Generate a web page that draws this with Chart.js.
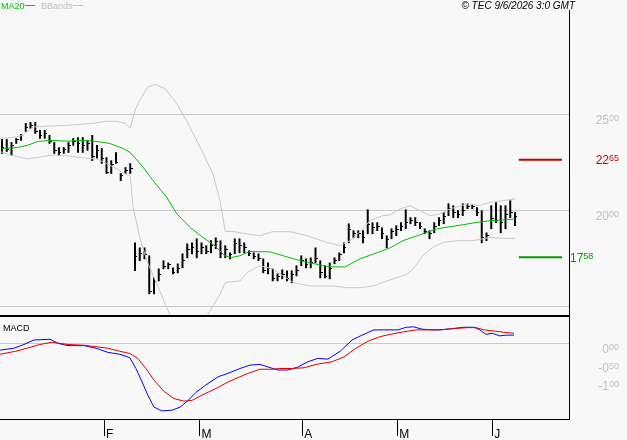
<!DOCTYPE html>
<html>
<head>
<meta charset="utf-8">
<script src="https://cdn.jsdelivr.net/npm/chart.js@4.4.1/dist/chart.umd.min.js"></script>
<style>
  html, body { margin: 0; padding: 0; background: #f8f8f8; }
  #wrap { position: relative; width: 627px; height: 440px; overflow: hidden; }
  canvas { position: absolute; left: 0; }
  #priceChart { top: 0; }
  #macdChart { top: 316px; }
</style>
</head>
<body>
<div id="wrap">
  <canvas id="priceChart" width="627" height="316"></canvas>
  <canvas id="macdChart" width="627" height="124"></canvas>
</div>
<script>
// daily bars, Jan -> early June (one entry per session)
const highs = [23.70, 23.70, 23.54, 23.75, 23.96, 24.53, 24.58, 24.58, 24.17, 24.17,
  23.91, 23.54, 23.28, 23.28, 23.54, 23.75, 23.80, 23.80, 23.65, 23.91,
  23.39, 23.23, 22.76, 22.60, 23.02, 21.93, 22.24, 22.45, 18.33, 18.07,
  18.07, 17.66, 16.51, 16.98, 17.40, 17.29, 17.03, 17.24, 17.76, 18.28,
  18.33, 18.54, 18.33, 18.18, 18.44, 18.59, 18.44, 18.18, 17.81, 18.54,
  18.54, 18.33, 17.92, 17.81, 17.76, 17.50, 17.29, 16.98, 16.72, 16.93,
  16.88, 16.88, 17.14, 17.66, 17.50, 17.55, 18.07, 17.40, 17.14, 17.29,
  17.55, 17.81, 18.33, 19.32, 18.96, 18.96, 18.96, 20.05, 19.38, 19.38,
  19.11, 18.70, 19.06, 19.22, 19.38, 20.05, 19.64, 19.64, 19.38, 19.06,
  18.96, 19.38, 19.64, 19.90, 20.36, 20.26, 20.00, 20.36, 20.36, 20.31,
  20.16, 20.00, 18.85, 20.26, 20.42, 20.26, 20.26, 20.52, 19.90];
const lows = [22.97, 23.07, 22.86, 23.49, 23.65, 24.11, 24.27, 24.01, 23.75, 23.75,
  23.49, 22.97, 22.86, 22.97, 23.02, 23.39, 23.02, 23.02, 23.13, 22.60,
  22.71, 22.45, 21.93, 21.93, 22.45, 21.56, 21.93, 21.93, 16.88, 17.40,
  17.50, 15.68, 15.68, 16.35, 16.98, 16.98, 16.72, 16.77, 17.03, 17.55,
  17.76, 17.55, 17.76, 17.76, 17.81, 18.02, 17.55, 17.55, 17.50, 17.76,
  17.81, 17.81, 17.66, 17.50, 17.40, 16.77, 16.72, 16.35, 16.35, 16.46,
  16.35, 16.25, 16.61, 17.14, 17.03, 17.03, 17.29, 16.51, 16.51, 16.46,
  17.24, 17.40, 17.81, 18.33, 18.59, 18.59, 18.33, 18.80, 18.80, 18.96,
  18.54, 18.07, 18.54, 18.70, 18.96, 19.06, 19.32, 19.22, 19.06, 18.80,
  18.54, 18.85, 19.22, 19.32, 19.74, 19.64, 19.64, 19.74, 20.10, 20.10,
  19.74, 18.33, 18.44, 19.06, 19.38, 18.85, 19.06, 19.64, 19.22];
const closes = [23.3, 23.2, 23.4, 23.7, 23.9, 24.3, 24.4, 24.1, 23.9, 24.0,
  23.6, 23.1, 23.0, 23.2, 23.4, 23.6, 23.5, 23.4, 23.5, 22.8,
  23.1, 22.7, 22.0, 22.4, 22.5, 21.8, 22.1, 22.2, 17.6, 17.8,
  17.7, 15.8, 16.3, 16.7, 17.1, 17.2, 16.8, 17.0, 17.4, 18.0,
  18.1, 17.9, 18.1, 17.9, 18.2, 18.4, 17.8, 18.0, 17.7, 18.3,
  18.2, 18.1, 17.8, 17.6, 17.5, 16.9, 17.0, 16.5, 16.6, 16.7,
  16.5, 16.7, 16.9, 17.4, 17.2, 17.3, 17.5, 16.8, 16.6, 17.0,
  17.4, 17.7, 18.1, 19.0, 18.8, 18.8, 18.6, 19.3, 19.1, 19.2,
  18.8, 18.5, 18.9, 19.0, 19.2, 19.4, 19.5, 19.4, 19.2, 18.9,
  18.8, 19.2, 19.5, 19.7, 20.1, 19.9, 19.8, 20.0, 20.2, 20.2,
  19.9, 18.6, 18.7, 19.6, 19.5, 19.4, 19.8, 19.9, 19.7];

// [session, value]
const ma20 = [[0, 23.23], [3.2, 23.28], [5.3, 23.39], [7.6, 23.59], [10.1, 23.65], [13.7, 23.61],
  [17.1, 23.65], [20, 23.59], [22.7, 23.49], [25.5, 23.23], [27, 23.02], [29.7, 22.26],
  [31.8, 21.56], [34.7, 20.69], [36.8, 19.84], [39.6, 19.13], [42.3, 18.61], [44.8, 18.18],
  [46.9, 17.66], [48.4, 17.57], [50.1, 17.66], [52.2, 17.88], [56.4, 17.86], [59.2, 17.66],
  [62.1, 17.45], [64.8, 17.29], [69.1, 17.08], [72.2, 17.08], [75.4, 17.50], [78.9, 17.81],
  [81.7, 18.07], [84.4, 18.44], [88.6, 18.80], [91.6, 19.06], [95.8, 19.22], [100, 19.39],
  [102.7, 19.48], [106.3, 19.53], [108, 19.57]];
const bbUpper = [[-0.4, 23.75], [2.3, 23.80], [4.4, 23.91], [6.5, 24.34], [9.5, 24.39], [13.7, 24.43],
  [18.5, 24.52], [22.1, 24.64], [24.2, 24.64], [25.9, 24.53], [27, 24.30], [28, 25.21],
  [29, 25.73], [30.7, 26.42], [32.2, 26.55], [34.3, 26.34], [36.8, 25.56], [39, 24.60],
  [41.7, 23.30], [44.4, 21.91], [45.9, 20.52], [47, 18.92], [48.6, 18.92], [51.6, 18.79],
  [54.3, 18.70], [57, 18.91], [60.6, 18.91], [64.2, 18.70], [68.4, 18.35], [71.2, 18.18],
  [73.3, 18.44], [75.4, 18.91], [77.5, 19.48], [80.2, 19.74], [81.7, 19.78], [83.8, 20.09],
  [85.9, 20.26], [88, 20.00], [90.1, 19.74], [92.2, 19.83], [94.3, 20.09], [97.9, 20.35],
  [100.6, 20.26], [102.7, 20.43], [105.5, 20.52], [108, 20.61]];
const bbLower = [[-0.4, 23.07], [2.3, 22.86], [5.3, 22.69], [8, 22.78], [10.7, 22.90], [14.3, 22.83],
  [17.9, 22.72], [20, 22.69], [22.1, 22.43], [24.2, 22.17], [25.9, 21.91], [27, 21.82],
  [27.6, 20.17], [29, 18.61], [30.5, 17.40], [32.6, 16.20], [34.7, 14.95], [35.8, 14.38],
  [39.6, 13.75], [42.7, 14.38], [43.8, 14.79], [45.9, 15.66], [47, 16.27], [50.1, 16.35],
  [51.6, 16.79], [54.3, 17.14], [57, 16.98], [61.3, 16.27], [64.8, 16.09], [69.7, 16.09],
  [72.6, 16.00], [75.4, 16.00], [78.1, 16.09], [81.1, 16.35], [85.3, 16.70], [86.5, 16.96],
  [88.6, 17.66], [90.7, 18.09], [92.8, 18.35], [95.8, 18.44], [99.2, 18.44], [102.7, 18.61],
  [105.5, 18.56], [108, 18.56]];

const macdLine = [[-0.4, -0.18], [2.5, -0.13], [4.6, -0.03], [6.7, 0.09], [10.1, 0.11], [11.8, 0.0],
  [13.9, -0.06], [17.3, -0.06], [19.8, -0.13], [22.3, -0.24], [24.8, -0.29], [26.9, -0.38],
  [28.2, -0.67], [29.5, -1.03], [30.7, -1.38], [32, -1.70], [33.7, -1.80], [35.8, -1.78],
  [37.5, -1.70], [39.2, -1.52], [40.8, -1.31], [42.9, -1.11], [45.5, -0.89], [47.6, -0.80],
  [50.1, -0.67], [52.2, -0.58], [54.3, -0.56], [56, -0.63], [58.1, -0.71], [60.2, -0.71],
  [62.3, -0.63], [64.4, -0.49], [66.5, -0.40], [68.6, -0.42], [71.2, -0.21], [73.7, 0.09],
  [75.8, 0.22], [78.3, 0.36], [80.4, 0.36], [83.4, 0.36], [85.1, 0.43], [86.7, 0.44],
  [88.4, 0.38], [90.5, 0.36], [92.2, 0.36], [95.2, 0.40], [97.3, 0.43], [99.4, 0.43],
  [100.6, 0.36], [101.9, 0.24], [103.2, 0.27], [104.8, 0.20], [106.1, 0.22], [107.8, 0.22]];
const macdSignal = [[-0.4, -0.29], [2.9, -0.21], [5.5, -0.12], [8, -0.03], [10.5, 0.03], [13.9, -0.03],
  [17.3, -0.05], [19.8, -0.09], [22.3, -0.13], [24.8, -0.21], [26.9, -0.27], [28.6, -0.40],
  [30.3, -0.67], [32, -0.98], [34.1, -1.28], [36.2, -1.47], [38.3, -1.54], [40, -1.52],
  [42.1, -1.38], [45.1, -1.20], [47.6, -1.03], [50.1, -0.89], [52.2, -0.78], [54.3, -0.69],
  [56.8, -0.69], [58.5, -0.67], [61.1, -0.67], [63.6, -0.65], [66.1, -0.56], [69.5, -0.49],
  [72, -0.36], [74.5, -0.13], [77.1, 0.06], [79.6, 0.18], [82.1, 0.25], [84.6, 0.31],
  [87.2, 0.36], [89.7, 0.36], [92.2, 0.36], [95.6, 0.40], [98.1, 0.42], [99.8, 0.42],
  [101.5, 0.36], [103.6, 0.33], [106.1, 0.29], [107.8, 0.27]];

const resistance = 22.65;
const support = 17.58;
const priceTicks = [15, 20, 25];
const priceLabels = [20, 25];
const macdTicks = [-1, -0.5, 0];
const monthLabels = ['F', 'M', 'A', 'M', 'J'];
const monthStarts = [21.5, 41.6, 63.2, 83.2, 103.2];

const FONT = '"Liberation Sans", Arial, sans-serif';
const xMin = -0.42, xMax = 119.37;
const lastIdx = highs.length - 1;

const toXY = pts => pts.map(p => ({ x: p[0], y: p[1] }));

// small tick to the right of each bar for the close
const closeTick = document.createElement('canvas');
closeTick.width = 5; closeTick.height = 1;
const tctx = closeTick.getContext('2d');
tctx.fillStyle = '#000';
tctx.fillRect(3, 0, 2, 1);

// "25" big + "00" small raised, like the original axis labels
function splitLabel(v) {
  const s = Math.abs(v).toFixed(2).split('.');
  return [(v < 0 ? '-' : '') + s[0], s[1]];
}
function drawSplit(ctx, v, x, y, color, alignLeft) {
  const [big, small] = splitLabel(v);
  ctx.save();
  ctx.fillStyle = color;
  ctx.textBaseline = 'alphabetic';
  ctx.font = '12px ' + FONT;
  const bw = ctx.measureText(big).width;
  ctx.font = '9px ' + FONT;
  const sw = ctx.measureText(small).width;
  const left = alignLeft ? x : x - bw - sw;
  ctx.font = '12px ' + FONT;
  ctx.textAlign = 'left';
  ctx.fillText(big, left, y + 4.5);
  ctx.font = '9px ' + FONT;
  ctx.fillText(small, left + bw, y + 1.5);
  ctx.restore();
}

const priceDecor = {
  id: 'priceDecor',
  afterDraw(chart) {
    const ctx = chart.ctx, a = chart.chartArea, ys = chart.scales.y;
    ctx.save();
    ctx.fillStyle = '#000';
    ctx.fillRect(0, a.bottom - 1, a.right + 1, 1);
    // legend
    ctx.font = '9px ' + FONT;
    ctx.textBaseline = 'alphabetic';
    ctx.fillStyle = '#00c000';
    ctx.fillText('MA20', 1, 9);
    ctx.fillRect(25, 5, 10, 1);
    ctx.fillStyle = '#c0c0c0';
    ctx.fillText('BBands', 41, 9);
    ctx.fillRect(73, 5, 10, 1);
    ctx.fillStyle = '#000';
    ctx.font = 'italic 10px ' + FONT;
    ctx.textAlign = 'right';
    ctx.fillText('\u00a9 TEC 9/6/2026 3:0 GMT', 575, 9);
    ctx.restore();
    priceLabels.forEach(v => drawSplit(ctx, v, 619, ys.getPixelForValue(v) + 5, '#c0c0c0'));
    drawSplit(ctx, resistance, 619, ys.getPixelForValue(resistance), '#cc0000');
    drawSplit(ctx, support, a.right + 1, ys.getPixelForValue(support), '#009900', true);
  }
};

const macdDecor = {
  id: 'macdDecor',
  afterDraw(chart) {
    const ctx = chart.ctx, a = chart.chartArea, ys = chart.scales.y;
    ctx.save();
    ctx.fillStyle = '#000';
    ctx.fillRect(0, 0, a.right + 1, 1);
    ctx.font = '9px ' + FONT;
    ctx.fillText('MACD', 3, 15);
    ctx.restore();
    macdTicks.forEach(v => drawSplit(ctx, v, 619, ys.getPixelForValue(v) + 5, '#c0c0c0'));
  }
};

const rightAxisWidth = s => { s.width = 58; };

new Chart(document.getElementById('priceChart'), {
  type: 'bar',
  data: {
    datasets: [
      { type: 'line', data: toXY(bbUpper), borderColor: '#c8c8c8', borderWidth: 1, pointRadius: 0 },
      { type: 'line', data: toXY(bbLower), borderColor: '#c8c8c8', borderWidth: 1, pointRadius: 0 },
      { type: 'line', data: toXY(ma20), borderColor: '#00c000', borderWidth: 1, pointRadius: 0 },
      { type: 'line', data: [{ x: lastIdx + 0.8, y: resistance }, { x: lastIdx + 9.9, y: resistance }],
        borderColor: '#cc0000', borderWidth: 2, pointRadius: 0 },
      { type: 'line', data: [{ x: lastIdx + 0.8, y: support }, { x: lastIdx + 9.9, y: support }],
        borderColor: '#009900', borderWidth: 2, pointRadius: 0 },
      { type: 'bar', data: highs.map((h, i) => ({ x: i, y: [lows[i], h] })),
        backgroundColor: '#000', borderWidth: 0, barThickness: 1.3 },
      { type: 'line', data: closes.map((c, i) => ({ x: i, y: c })), showLine: false,
        pointStyle: closeTick, pointRadius: 2, pointHoverRadius: 2 }
    ]
  },
  options: {
    responsive: false,
    animation: false,
    events: [],
    layout: { autoPadding: false, padding: { top: 10, left: 0, right: 0, bottom: 0 } },
    plugins: { legend: { display: false }, tooltip: { enabled: false } },
    scales: {
      x: { type: 'linear', min: xMin, max: xMax, offset: false, display: false },
      y: {
        position: 'right', min: 14.53, max: 30.42,
        afterBuildTicks: s => { s.ticks = priceTicks.map(v => ({ value: v })); },
        afterFit: rightAxisWidth,
        ticks: { display: false },
        grid: { color: '#c8c8c8', drawTicks: false },
        border: { color: '#000', width: 1 }
      }
    }
  },
  plugins: [priceDecor]
});

new Chart(document.getElementById('macdChart'), {
  type: 'line',
  data: {
    datasets: [
      { data: toXY(macdSignal), borderColor: '#e00000', borderWidth: 1, pointRadius: 0 },
      { data: toXY(macdLine), borderColor: '#0000ff', borderWidth: 1, pointRadius: 0 }
    ]
  },
  options: {
    responsive: false,
    animation: false,
    events: [],
    layout: { autoPadding: false, padding: 0 },
    plugins: { legend: { display: false }, tooltip: { enabled: false } },
    scales: {
      x: {
        type: 'linear', min: xMin, max: xMax, offset: false,
        afterBuildTicks: s => { s.ticks = monthStarts.map(v => ({ value: v })); },
        afterFit: s => { s.height = 21; },
        ticks: {
          callback: (v, i) => monthLabels[i], align: 'start', padding: -9, labelOffset: 2,
          color: '#000', font: { family: FONT, size: 12 }, maxRotation: 0, autoSkip: false
        },
        grid: { drawOnChartArea: false, tickLength: 17, color: '#000' },
        border: { color: '#000', width: 1 }
      },
      y: {
        position: 'right', min: -2.016, max: 0.73,
        afterBuildTicks: s => { s.ticks = macdTicks.map(v => ({ value: v })); },
        afterFit: rightAxisWidth,
        ticks: { display: false },
        grid: { color: c => (c.tick && c.tick.value === 0 ? '#c8c8c8' : 'rgba(0,0,0,0)'), drawTicks: false },
        border: { color: '#000', width: 1 }
      }
    }
  },
  plugins: [macdDecor]
});
</script>
</body>
</html>
